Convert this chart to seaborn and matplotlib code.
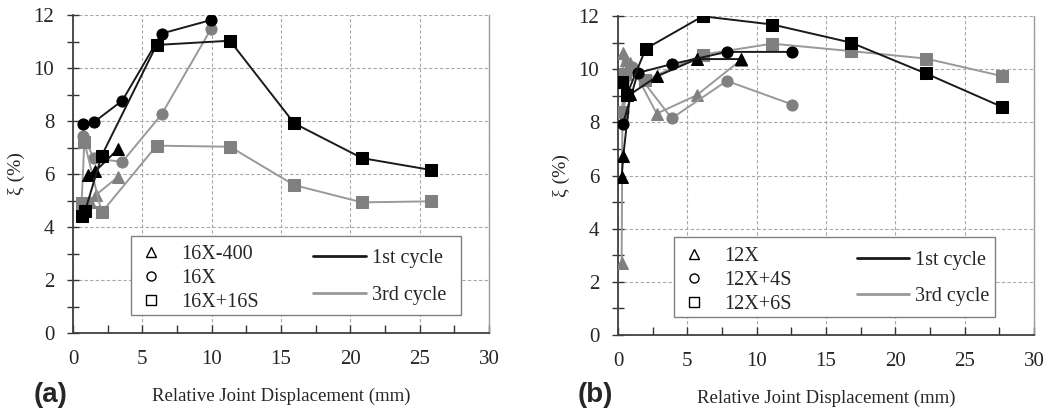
import matplotlib
matplotlib.use("Agg")
import matplotlib.pyplot as plt
from matplotlib.lines import Line2D
from matplotlib.patches import Rectangle
import seaborn as sns

sns.set_theme(style="white")
plt.rcParams['font.family'] = ['Liberation Serif', 'DejaVu Serif']

# ---------------- data: panel (a) ----------------
a_names = ["16X-400", "16X", "16X+16S"]
a16x400_c1_x = [1.10, 1.60, 3.27]
a16x400_c1_y = [5.98, 6.10, 6.95]
a16x400_c3_x = [1.23, 1.63, 3.27]
a16x400_c3_y = [4.95, 5.20, 5.90]
a16x_c1_x = [0.74, 1.49, 3.56, 6.39, 9.95]
a16x_c1_y = [7.87, 7.95, 8.77, 11.30, 11.81]
a16x_c3_x = [0.74, 1.51, 3.56, 6.39, 9.95]
a16x_c3_y = [7.43, 6.59, 6.46, 8.25, 11.47]
a16s_c1_x = [0.62, 0.87, 2.07, 6.03, 11.32, 15.96, 20.85, 25.85]
a16s_c1_y = [4.43, 4.60, 6.69, 10.87, 11.03, 7.91, 6.60, 6.15]
a16s_c3_x = [0.62, 0.82, 2.07, 6.03, 11.32, 15.96, 20.85, 25.85]
a16s_c3_y = [4.89, 7.22, 4.55, 7.07, 7.03, 5.58, 4.93, 4.97]

# ---------------- data: panel (b) ----------------
b_names = ["12X", "12X+4S", "12X+6S"]
b12x_c1_x = [0.26, 0.38, 0.87, 2.84, 5.67, 8.90]
b12x_c1_y = [5.95, 6.75, 9.05, 9.74, 10.38, 10.38]
b12x_c3_x = [0.26, 0.34, 0.55, 0.85, 2.79, 5.67, 8.90]
b12x_c3_y = [2.70, 10.60, 10.35, 10.25, 8.33, 9.02, 10.36]
b4s_c1_x = [0.36, 1.42, 3.87, 7.84, 12.57]
b4s_c1_y = [7.95, 9.86, 10.19, 10.65, 10.65]
b4s_c3_x = [0.36, 1.00, 3.87, 7.84, 12.57]
b4s_c3_y = [8.40, 10.10, 8.15, 9.56, 8.67]
b6s_c1_x = [0.26, 0.62, 2.00, 6.10, 11.13, 16.80, 22.20, 27.70]
b6s_c1_y = [9.50, 9.02, 10.77, 11.99, 11.68, 11.00, 9.84, 8.58]
b6s_c3_x = [0.31, 0.53, 1.97, 6.10, 11.13, 16.80, 22.20, 27.70]
b6s_c3_y = [8.40, 9.83, 9.59, 10.55, 10.96, 10.68, 10.40, 9.74]

cycle_labels = ["1st cycle", "3rd cycle"]
x_ticks = [0, 5, 10, 15, 20, 25, 30]
y_ticks = [0, 2, 4, 6, 8, 10, 12]

BLACK = "#000000"
BLINE = "#1a1a1a"
GRAY = "#808080"
GLINE = "#999999"
MARKERS = ["^", "o", "s"]

fig = plt.figure(figsize=(10.47, 4.17), dpi=100)
axL = fig.add_axes([0.0697, 0.2014, 0.3973, 0.7626])
axR = fig.add_axes([0.5903, 0.1966, 0.3973, 0.7650])

panels = [
    (axL, a_names, [(a16x400_c1_x, a16x400_c1_y, a16x400_c3_x, a16x400_c3_y),
                    (a16x_c1_x, a16x_c1_y, a16x_c3_x, a16x_c3_y),
                    (a16s_c1_x, a16s_c1_y, a16s_c3_x, a16s_c3_y)],
     (0.139, 0.057, 0.794, 0.248), "(a)", 0.032),
    (axR, b_names, [(b12x_c1_x, b12x_c1_y, b12x_c3_x, b12x_c3_y),
                    (b4s_c1_x, b4s_c1_y, b4s_c3_x, b4s_c3_y),
                    (b6s_c1_x, b6s_c1_y, b6s_c3_x, b6s_c3_y)],
     (0.135, 0.056, 0.771, 0.251), "(b)", 0.552),
]

for ax, names, series, box, tag, tagx in panels:
    # 3rd cycle first (under), then 1st cycle
    for (x1, y1, x3, y3), mk in zip(series, MARKERS):
        sns.lineplot(x=x3, y=y3, ax=ax, sort=False, estimator=None, color=GLINE,
                     lw=1.4, marker=mk, markersize=8, markerfacecolor=GRAY,
                     markeredgecolor=GRAY, zorder=3)
    for (x1, y1, x3, y3), mk in zip(series, MARKERS):
        sns.lineplot(x=x1, y=y1, ax=ax, sort=False, estimator=None, color=BLINE,
                     lw=1.4, marker=mk, markersize=8, markerfacecolor=BLACK,
                     markeredgecolor=BLACK, zorder=4)

    ax.set_xlim(0, 30)
    ax.set_ylim(0, 12)
    ax.set_xticks(x_ticks)
    ax.set_yticks(y_ticks)
    ax.set_xticks([2.5, 7.5, 12.5, 17.5, 22.5, 27.5], minor=True)
    ax.set_yticks([1, 3, 5, 7, 9, 11], minor=True)
    ax.grid(True, which="major", linestyle=(0, (3, 2)), color="#a8a8a8", lw=0.8)
    ax.tick_params(axis="x", which="both", direction="in", length=6, width=1,
                   color="#333333", labelsize=15, pad=12, bottom=True)
    ax.tick_params(axis="y", which="both", direction="inout", length=9, width=1,
                   color="#333333", labelsize=15, pad=9, left=True)
    for s in ["left", "bottom"]:
        ax.spines[s].set_color("#404040")
        ax.spines[s].set_linewidth(1.3)
    ax.spines["top"].set_visible(False)
    ax.spines["right"].set_color("#9a9a9a")
    ax.spines["right"].set_linewidth(1.0)
    ax.set_xlabel("Relative Joint Displacement (mm)", fontsize=13.5, labelpad=14)
    ax.set_ylabel("ξ (%)", fontsize=14, labelpad=6)

    # legend frame
    x0, y0, w, h = box
    rect = Rectangle((x0, y0), w, h, transform=ax.transAxes, facecolor="white",
                     edgecolor="#808080", lw=1.0, zorder=6)
    ax.add_patch(rect)
    mh = [Line2D([], [], ls="none", marker=m, markersize=6.5, markerfacecolor="white",
                 markeredgecolor="black", markeredgewidth=1.0) for m in MARKERS]
    leg1 = ax.legend(mh, names, loc="center left", bbox_to_anchor=(x0 - 0.005, y0 + h / 2 - 0.01),
                     frameon=False, fontsize=14.5, handlelength=1.2, handletextpad=0.9,
                     labelspacing=0.25, borderpad=0)
    leg1.set_zorder(7)
    ax.add_artist(leg1)
    lh = [Line2D([], [], color=BLINE, lw=2.0), Line2D([], [], color=GLINE, lw=2.0)]
    leg2 = ax.legend(lh, cycle_labels, loc="center left",
                     bbox_to_anchor=(x0 + 0.415, y0 + h / 2 - 0.005), frameon=False, fontsize=14.5,
                     handlelength=2.6, handletextpad=0.3, labelspacing=0.85, borderpad=0)
    leg2.set_zorder(7)

    fig.text(tagx, 0.052, tag, fontsize=20, fontweight="bold",
             family=["Liberation Sans", "DejaVu Sans"], ha="left", va="center")

fig.savefig("out.png", dpi=100, facecolor="white")
